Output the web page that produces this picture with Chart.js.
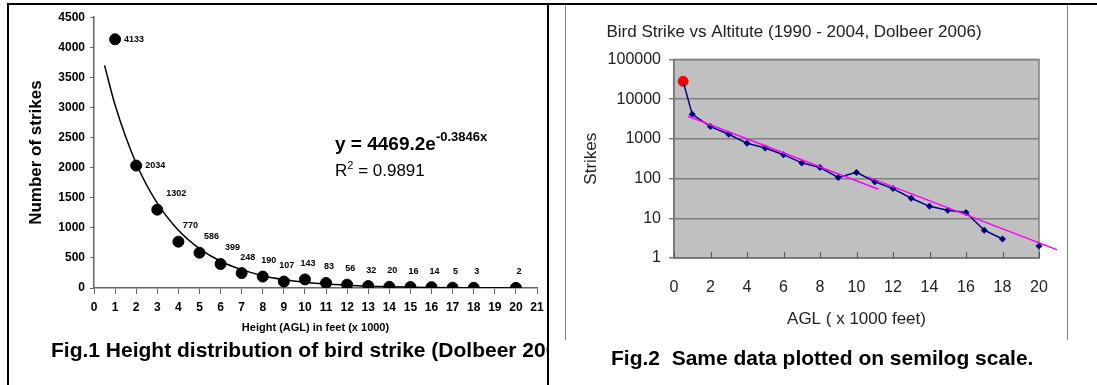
<!DOCTYPE html>
<html>
<head>
<meta charset="utf-8">
<script src="https://cdn.jsdelivr.net/npm/chart.js"></script>
<style>
body { margin:0; background:#fff; width:1097px; height:385px; overflow:hidden; position:relative; font-family:"Liberation Sans", Arial, sans-serif; }
.ln { position:absolute; background:#000; }
#c1 { position:absolute; left:8px; top:5px; }
#c2 { position:absolute; left:549px; top:5px; }
.cap { position:absolute; font-weight:bold; font-size:21px; white-space:nowrap; }
#eq { position:absolute; left:335px; top:131px; font-weight:bold; font-size:19px; white-space:nowrap; }
#eq sup { font-size:13px; position:relative; top:-2px; }
#r2 { position:absolute; left:335px; top:159px; font-size:17px; white-space:nowrap; }
#r2 sup { font-size:11px; }
</style>
</head>
<body>
<div class="ln" style="left:7px;top:3px;width:1090px;height:2px"></div>
<div class="ln" style="left:7px;top:3px;width:2px;height:382px"></div>
<div class="ln" style="left:547px;top:3px;width:2px;height:382px"></div>
<div class="ln" style="left:565px;top:5px;width:1px;height:335px;background:#808080"></div>
<div class="ln" style="left:1067px;top:5px;width:1px;height:335px;background:#808080"></div>

<canvas id="c1" width="542" height="335"></canvas>
<canvas id="c2" width="508" height="335"></canvas>

<div id="eq">y = 4469.2e<sup>-0.3846x</sup></div>
<div id="r2">R<sup>2</sup> = 0.9891</div>

<div style="position:absolute;left:9px;top:336px;width:538px;height:32px;overflow:hidden">
  <div class="cap" style="left:42px;top:2px">Fig.1 Height distribution of bird strike (Dolbeer 2006)</div>
</div>
<div class="cap" style="left:611px;top:346px">Fig.2&nbsp; Same data plotted on semilog scale.</div>

<script>
// Dolbeer 2006, strikes per 1000 ft band
const heights = [1, 2, 3, 4, 5, 6, 7, 8, 9, 10, 11, 12, 13, 14, 15, 16, 17, 18, 20];
const strikes = [4133, 2034, 1302, 770, 586, 399, 248, 190, 107, 143, 83, 56, 32, 20, 16, 14, 5, 3, 2];

// ground level point (red dot on fig 2)
const groundHeight = 0.5;
const groundStrikes = 28000;

// exponential trend curve on fig 1
const fitX = [0.5, 1, 2, 3, 4, 5, 6, 7, 8, 9, 10, 11, 12, 13, 14, 15, 16, 17, 18, 19, 20];
const fitY = [3700, 3040, 2070, 1410, 960, 655, 445, 305, 205, 140, 95, 65, 45, 30, 20, 14, 9, 6, 4, 3, 2];

// the two pink trend lines on fig 2
const trend1X = [0.77, 11.2];
const trend1Y = [3700, 54];
const trend2X = [10.6, 21.0];
const trend2Y = [110, 1.6];

const logTicks = [1, 10, 100, 1000, 10000, 100000];

const ARIAL = '"Liberation Sans", Arial, sans-serif';

const pointLabels = {
  id: 'pointLabels',
  afterDatasetsDraw(chart) {
    const ctx = chart.ctx;
    const meta = chart.getDatasetMeta(1);
    ctx.save();
    ctx.font = 'bold 9px ' + ARIAL;
    ctx.fillStyle = '#000';
    ctx.textBaseline = 'middle';
    meta.data.forEach((pt, i) => {
      const v = strikes[i];
      if (v > 2000) {
        ctx.textAlign = 'left';
        ctx.fillText(v, pt.x + 9, pt.y);
      } else {
        ctx.textAlign = 'center';
        let dx = 3;
        if (v > 1000) dx = 19;
        else if (v > 300) dx = 12;
        else if (v > 150) dx = 6;
        ctx.fillText(v, pt.x + dx, pt.y - 16);
      }
    });
    ctx.restore();
  }
};

new Chart(document.getElementById('c1'), {
  type: 'scatter',
  data: {
    datasets: [
      {
        type: 'line',
        data: fitX.map((x, i) => ({x: x, y: fitY[i]})),
        borderColor: '#000',
        borderWidth: 1.5,
        pointRadius: 0,
        tension: 0.4,
        cubicInterpolationMode: 'monotone'
      },
      {
        data: heights.map((x, i) => ({x: x, y: strikes[i]})),
        backgroundColor: '#000',
        borderColor: '#000',
        pointRadius: 5.5
      }
    ]
  },
  options: {
    responsive: false,
    animation: false,
    layout: {padding: {top: 10, right: 13, left: 0, bottom: 0}},
    plugins: {legend: {display: false}, tooltip: {enabled: false}},
    scales: {
      x: {
        type: 'linear', min: 0, max: 21,
        ticks: {stepSize: 1, color: '#000', padding: 6, font: {family: ARIAL, size: 12, weight: 'bold'}},
        grid: {drawOnChartArea: false, tickLength: 6, color: '#666'},
        border: {color: '#666', width: 1.5},
        title: {display: true, text: 'Height (AGL) in feet (x 1000)', color: '#000',
                font: {family: ARIAL, size: 11, weight: 'bold'}, padding: {bottom: 5}},
        afterFit: s => { s.height = 52; }
      },
      y: {
        min: 0, max: 4500,
        ticks: {stepSize: 500, color: '#000', padding: 5, font: {family: ARIAL, size: 12, weight: 'bold'},
                callback: v => String(v)},
        grid: {drawOnChartArea: false, tickLength: 4, color: '#666'},
        border: {color: '#666', width: 1.5},
        title: {display: true, text: 'Number of strikes', color: '#000',
                font: {family: ARIAL, size: 17, weight: 'bold'}, padding: {top: 18}},
        afterFit: s => { s.width = 86; }
      }
    }
  },
  plugins: [pointLabels]
});

const plotBack = {
  id: 'plotBack',
  beforeDraw(chart) {
    const a = chart.chartArea, ctx = chart.ctx;
    ctx.save();
    ctx.fillStyle = '#c0c0c0';
    ctx.fillRect(a.left, a.top, a.right - a.left, a.bottom - a.top);
    ctx.restore();
  },
  beforeDatasetsDraw(chart) {
    const a = chart.chartArea, ctx = chart.ctx, xs = chart.scales.x;
    ctx.save();
    ctx.strokeStyle = '#808080';
    ctx.lineWidth = 1.5;
    ctx.strokeRect(a.left, a.top, a.right - a.left, a.bottom - a.top);
    ctx.strokeStyle = '#555';
    ctx.lineWidth = 1;
    xs.ticks.forEach(t => {
      const px = Math.round(xs.getPixelForValue(t.value)) + 0.5;
      ctx.beginPath();
      ctx.moveTo(px, a.bottom);
      ctx.lineTo(px, a.bottom - 6);
      ctx.stroke();
    });
    ctx.restore();
  }
};

new Chart(document.getElementById('c2'), {
  type: 'line',
  data: {
    datasets: [
      {
        data: trend1X.map((x, i) => ({x: x, y: trend1Y[i]})),
        borderColor: '#ff00ff', borderWidth: 1.5, pointRadius: 0, clip: false
      },
      {
        data: trend2X.map((x, i) => ({x: x, y: trend2Y[i]})),
        borderColor: '#ff00ff', borderWidth: 1.5, pointRadius: 0, clip: false
      },
      {
        data: [{x: groundHeight, y: groundStrikes}].concat(heights.map((x, i) => ({x: x, y: strikes[i]}))),
        borderColor: '#000080',
        borderWidth: 1.5,
        backgroundColor: '#000080',
        pointStyle: 'rectRot',
        pointRadius: ctx => ctx.dataIndex === 0 ? 0 : 3.5,
        pointBorderWidth: 0,
        clip: false,
        segment: {borderColor: ctx => ctx.p1.parsed.x - ctx.p0.parsed.x > 1 ? 'rgba(0,0,0,0)' : '#000080'}
      },
      {
        data: [{x: groundHeight, y: groundStrikes}],
        backgroundColor: '#ff0000', borderColor: '#ff0000', pointRadius: 5, showLine: false
      }
    ]
  },
  options: {
    responsive: false,
    animation: false,
    layout: {padding: {top: 0, right: 18, left: 0, bottom: 0}},
    plugins: {
      legend: {display: false},
      tooltip: {enabled: false},
      title: {display: true, text: 'Bird Strike vs Altitute (1990 - 2004, Dolbeer 2006)', color: '#222',
              font: {family: ARIAL, size: 17, weight: 'normal'}, padding: {top: 17, bottom: 17}}
    },
    scales: {
      x: {
        type: 'linear', min: 0, max: 20,
        ticks: {stepSize: 2, color: '#222', padding: 3, font: {family: ARIAL, size: 16}},
        grid: {drawOnChartArea: false, tickLength: 17, color: 'rgba(0,0,0,0)'},
        border: {color: '#555', width: 1.5},
        title: {display: true, text: 'AGL ( x 1000 feet)', color: '#222',
                font: {family: ARIAL, size: 17}, padding: {bottom: 10}},
        afterFit: s => { s.height = 82; }
      },
      y: {
        type: 'logarithmic', min: 1, max: 100000,
        afterBuildTicks: s => { s.ticks = logTicks.map(v => ({value: v})); },
        ticks: {color: '#222', padding: 8, font: {family: ARIAL, size: 16}, callback: v => String(v)},
        grid: {color: '#808080', lineWidth: 1.5, tickLength: 5},
        border: {color: '#555', width: 1.5},
        title: {display: true, text: 'Strikes', color: '#222',
                font: {family: ARIAL, size: 17}, padding: {top: 32}},
        afterFit: s => { s.width = 125; }
      }
    }
  },
  plugins: [plotBack]
});
</script>
</body>
</html>
